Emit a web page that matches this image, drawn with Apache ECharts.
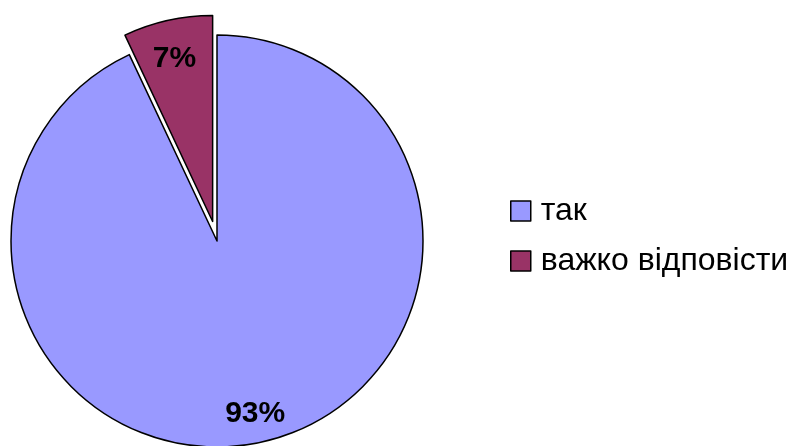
<!DOCTYPE html>
<html>
<head>
<meta charset="utf-8">
<script src="https://cdn.jsdelivr.net/npm/echarts@6/dist/echarts.min.js"></script>
<style>html,body{margin:0;padding:0;background:#fff;}#c{width:790px;height:446px;}</style>
</head>
<body>
<div id="c"></div>
<script>
const categories = ['так', 'важко відповісти'];
const values = [93, 7];
const colors = ['#9999FF', '#993366'];
const explode = [false, true];

const chart = echarts.init(document.getElementById('c'), null, {renderer: 'canvas'});

// spacer line height above each label (shifts label toward centre)
const labelShift = [4, 16];

const mainData = categories.map((n, i) => ({
  name: n, value: values[i], selected: explode[i],
  itemStyle: {color: colors[i], borderColor: '#000', borderWidth: 1.5},
  select: {itemStyle: {color: colors[i], borderColor: '#000', borderWidth: 1.5}},
  emphasis: {itemStyle: {color: colors[i]}}
}));
const labelData = categories.map((n, i) => ({
  name: n, value: values[i], selected: explode[i],
  itemStyle: {color: 'rgba(0,0,0,0)', borderWidth: 0},
  select: {itemStyle: {color: 'rgba(0,0,0,0)', borderWidth: 0}},
  label: {
    formatter: '{s| }\n{v|' + values[i] + '%}',
    rich: {
      s: {lineHeight: labelShift[i], fontSize: 4},
      v: {fontFamily: 'Liberation Sans, Arial', fontWeight: 'bold', fontSize: 30, color: '#000', lineHeight: 32}
    }
  }
}));

chart.setOption({
  animation: false,
  backgroundColor: '#fff',
  legend: {
    orient: 'vertical',
    left: 505,
    top: 190,
    icon: 'rect',
    itemWidth: 20,
    itemHeight: 20,
    itemGap: 18,
    data: categories,
    itemStyle: {borderColor: '#000', borderWidth: 1.5},
    textStyle: {fontFamily: 'Liberation Sans, Arial', fontSize: 32, color: '#000', lineHeight: 32, padding: [0, 0, 0, 5]}
  },
  series: [
    {
      type: 'pie',
      center: [217, 241],
      radius: [0, 206],
      startAngle: 90,
      clockwise: true,
      selectedMode: 'single',
      selectedOffset: 20,
      silent: true,
      label: {show: false},
      labelLine: {show: false},
      data: mainData
    },
    {
      type: 'pie',
      center: [217, 241],
      radius: [138, 206],
      startAngle: 90,
      clockwise: true,
      selectedMode: 'single',
      selectedOffset: 20,
      silent: true,
      legendHoverLink: false,
      label: {
        show: true, position: 'inside',
        fontFamily: 'Liberation Sans, Arial', fontWeight: 'bold', fontSize: 30, color: '#000'
      },
      labelLine: {show: false},
      data: labelData
    }
  ]
});
</script>
</body>
</html>
